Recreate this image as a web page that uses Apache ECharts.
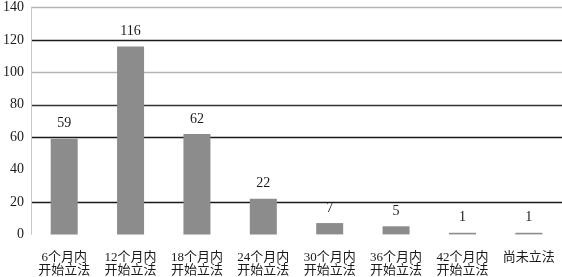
<!DOCTYPE html>
<html>
<head>
<meta charset="utf-8">
<script src="https://cdn.jsdelivr.net/npm/echarts@6/dist/echarts.min.js"></script>
<style>html,body{margin:0;padding:0;background:#fff;}#c{width:562px;height:277px;}</style>
</head>
<body>
<div id="c"></div>
<script>
var categories = ['6个月内\n开始立法','12个月内\n开始立法','18个月内\n开始立法','24个月内\n开始立法','30个月内\n开始立法','36个月内\n开始立法','42个月内\n开始立法','尚未立法'];
var values = [59, 116, 62, 22, 7, 5, 1, 1];
var yMin = 0, yMax = 140, yStep = 20;

var FONT = "'Liberation Serif', 'Noto Sans CJK SC', serif";
var chart = echarts.init(document.getElementById('c'), null, {renderer: 'canvas'});
chart.setOption({
  animation: false,
  backgroundColor: '#fff',
  grid: {left: 28, right: 0, top: 7.6, bottom: 42.6, containLabel: false},
  xAxis: {
    type: 'category',
    data: categories,
    axisLine: {show: false},
    axisTick: {show: false},
    axisLabel: {color: '#1a1a1a', fontFamily: FONT, fontSize: 13, lineHeight: 12.5, margin: 17, interval: 0}
  },
  yAxis: {
    type: 'value',
    min: yMin, max: yMax, interval: yStep,
    axisLine: {show: true, lineStyle: {color: '#c8c8c8', width: 1}},
    axisTick: {show: false},
    axisLabel: {color: '#1a1a1a', fontFamily: FONT, fontSize: 14, margin: 7},
    splitLine: {show: true, lineStyle: {width: 1.3, color: ['rgba(0,0,0,0)', '#1a1a1a', 'rgba(0,0,0,0)', '#1a1a1a', '#333333', '#b4b4b4', '#1a1a1a', '#b4b4b4']}}
  },
  series: [{
    type: 'bar',
    data: values,
    barWidth: 27,
    itemStyle: {color: '#8c8c8c'},
    label: {show: true, position: 'top', distance: 8, color: '#1a1a1a', fontFamily: FONT, fontSize: 14}
  }]
});
</script>
</body>
</html>
